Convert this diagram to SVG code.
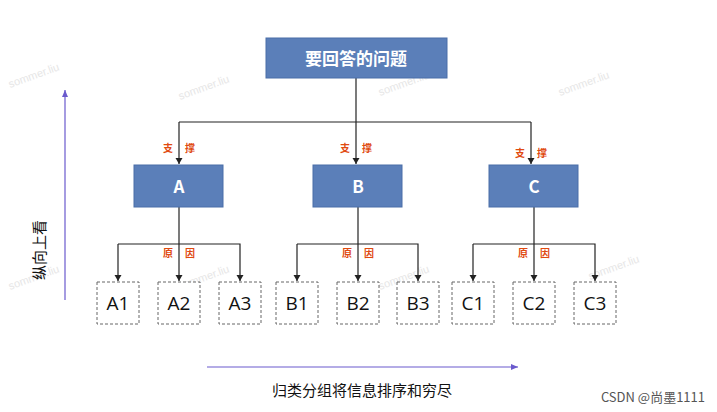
<svg xmlns="http://www.w3.org/2000/svg" width="717" height="412" viewBox="0 0 717 412">
<defs>
<marker id="ah" markerWidth="8" markerHeight="8" refX="7" refY="4" orient="auto" markerUnits="userSpaceOnUse" viewBox="0 0 8 8"><path d="M1,0.5 L7,4 L1,7.5 Z" fill="#222"/></marker>
<marker id="pa" markerWidth="8" markerHeight="8" refX="7" refY="4" orient="auto" markerUnits="userSpaceOnUse" viewBox="0 0 8 8"><path d="M0,1 L7,4 L0,7 Z" fill="#6a5acd"/></marker>
<style>
.blue{fill:#5b7fb9;stroke:#4a6ea8;stroke-width:1}
.bt{font-family:"Noto Sans CJK SC","Liberation Sans",sans-serif;font-weight:bold;fill:#fff;text-anchor:middle}
.leaf{fill:#fff;stroke:#666;stroke-width:1;stroke-dasharray:3,2}
.lt{font-family:"Open Sans","Liberation Sans",sans-serif;font-size:19px;fill:#111;text-anchor:middle}
.lab{font-family:"Noto Sans CJK SC",sans-serif;font-size:10px;font-weight:bold;fill:#e04a10;text-anchor:middle}
.con{fill:none;stroke:#222;stroke-width:1.2}
.wm{font-family:"Liberation Sans",sans-serif;font-size:11px;fill:#e6e6e6}
</style>
</defs>
<rect width="717" height="412" fill="#fff"/>
<g class="wm">
<text transform="translate(180,100) rotate(-20)">sommer.liu</text>
<text transform="translate(380,96) rotate(-20)">sommer.liu</text>
<text transform="translate(560,96) rotate(-20)">sommer.liu</text>
<text transform="translate(10,88) rotate(-20)">sommer.liu</text>
<text transform="translate(180,290) rotate(-20)">sommer.liu</text>
<text transform="translate(380,290) rotate(-20)">sommer.liu</text>
<text transform="translate(590,280) rotate(-20)">sommer.liu</text>
<text transform="translate(10,290) rotate(-20)">sommer.liu</text>
</g>
<g id="connectors">
<path class="con" d="M356,78 V164" marker-end="url(#ah)"/>
<path class="con" d="M179,122 H531"/>
<path class="con" d="M179,122 V164" marker-end="url(#ah)"/>
<path class="con" d="M531,122 V164" marker-end="url(#ah)"/>
<path class="con" d="M179,207 V281" marker-end="url(#ah)"/>
<path class="con" d="M118,244 H240 V281" marker-end="url(#ah)"/>
<path class="con" d="M118,244 V281" marker-end="url(#ah)"/>
<path class="con" d="M358,207 V281" marker-end="url(#ah)"/>
<path class="con" d="M297,244 H418 V281" marker-end="url(#ah)"/>
<path class="con" d="M297,244 V281" marker-end="url(#ah)"/>
<path class="con" d="M534,207 V281" marker-end="url(#ah)"/>
<path class="con" d="M473,244 H595 V281" marker-end="url(#ah)"/>
<path class="con" d="M473,244 V281" marker-end="url(#ah)"/>
<path d="M65,300 V90" stroke="#6a5acd" stroke-width="1.2" fill="none" marker-end="url(#pa)"/>
<path d="M207,367 H518" stroke="#6a5acd" stroke-width="1.2" fill="none" marker-end="url(#pa)"/>
</g>
<g class="lab">
<text x="168" y="152">支</text><text x="190" y="152">撑</text>
<text x="345" y="152">支</text><text x="367" y="152">撑</text>
<text x="520" y="157">支</text><text x="542" y="157">撑</text>
<text x="168" y="257">原</text><text x="190" y="257">因</text>
<text x="347" y="257">原</text><text x="369" y="257">因</text>
<text x="523" y="257">原</text><text x="545" y="257">因</text>
</g>
<g id="root"><rect class="blue" x="266" y="38" width="181" height="40"/><text class="bt" x="356" y="65" font-size="17">要回答的问题</text></g>
<g id="A"><rect class="blue" x="134" y="165" width="89" height="42"/><text class="bt" x="179" y="193" font-size="17">A</text></g>
<g id="B"><rect class="blue" x="313" y="165" width="89" height="42"/><text class="bt" x="358" y="193" font-size="17">B</text></g>
<g id="C"><rect class="blue" x="489" y="165" width="89" height="42"/><text class="bt" x="534" y="193" font-size="17">C</text></g>
<g id="A1"><rect class="leaf" x="97" y="282" width="42" height="42"/><text class="lt" x="118" y="310">A1</text></g>
<g id="A2"><rect class="leaf" x="158" y="282" width="42" height="42"/><text class="lt" x="179" y="310">A2</text></g>
<g id="A3"><rect class="leaf" x="219" y="282" width="42" height="42"/><text class="lt" x="240" y="310">A3</text></g>
<g id="B1"><rect class="leaf" x="276" y="282" width="42" height="42"/><text class="lt" x="297" y="310">B1</text></g>
<g id="B2"><rect class="leaf" x="337" y="282" width="42" height="42"/><text class="lt" x="358" y="310">B2</text></g>
<g id="B3"><rect class="leaf" x="397" y="282" width="42" height="42"/><text class="lt" x="418" y="310">B3</text></g>
<g id="C1"><rect class="leaf" x="452" y="282" width="42" height="42"/><text class="lt" x="473" y="310">C1</text></g>
<g id="C2"><rect class="leaf" x="513" y="282" width="42" height="42"/><text class="lt" x="534" y="310">C2</text></g>
<g id="C3"><rect class="leaf" x="574" y="282" width="42" height="42"/><text class="lt" x="595" y="310">C3</text></g>
<text transform="translate(45,250) rotate(-90)" font-family="Noto Sans CJK SC,sans-serif" font-size="15" fill="#111" text-anchor="middle">纵向上看</text>
<text x="362" y="396" font-family="Noto Sans CJK SC,sans-serif" font-size="15" fill="#111" text-anchor="middle">归类分组将信息排序和穷尽</text>
<text x="705" y="402" font-family="Noto Sans CJK SC,sans-serif" font-size="13" fill="#555" text-anchor="end">CSDN @尚墨1111</text>
</svg>
